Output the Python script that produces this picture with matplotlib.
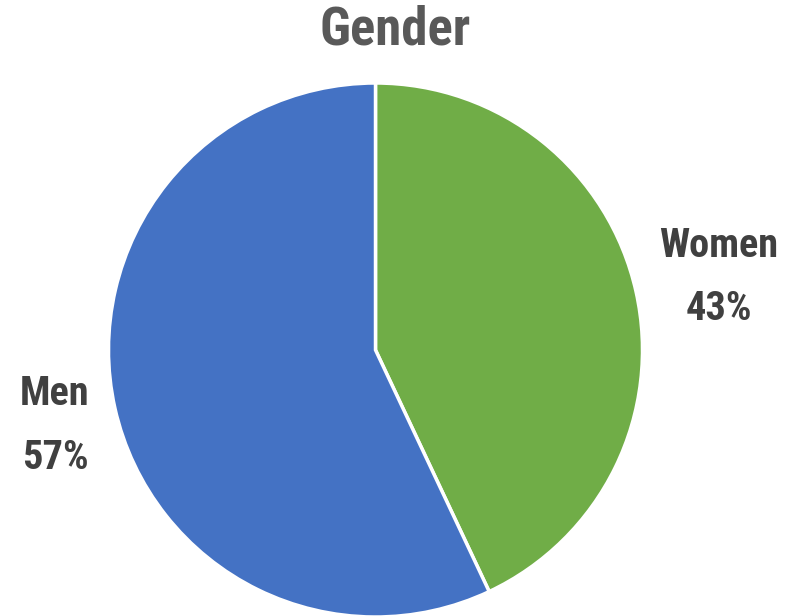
import matplotlib.pyplot as plt

labels = ["Women", "Men"]
shares = [43, 57]
colors = ["#70AD47", "#4472C4"]

plt.rcParams['font.family'] = ['Roboto Condensed', 'Liberation Sans Narrow', 'DejaVu Sans']
plt.rcParams['font.stretch'] = 'condensed'

W, H = 787, 616
fig = plt.figure(figsize=(W / 100, H / 100), dpi=100)

# pie centre and radius in pixels
cx, cy, r = 375.5, 350, 267
ax = fig.add_axes([(cx - r) / W, (H - cy - r) / H, 2 * r / W, 2 * r / H])
ax.pie(shares, colors=colors, startangle=90, counterclock=False,
       wedgeprops=dict(edgecolor="white", linewidth=2.5))
ax.set_xlim(-1, 1)
ax.set_ylim(-1, 1)
ax.set_axis_off()

# label positions (pixels) for each slice
label_pos = [(719, 246, 309), (55, 394, 458)]
for name, val, (x, y1, y2) in zip(labels, shares, label_pos):
    fig.text(x / W, 1 - y1 / H, name, ha="center", va="center",
             fontsize=29, fontweight="bold", color="#404040")
    fig.text(x / W, 1 - y2 / H, f"{val}%", ha="center", va="center",
             fontsize=29, fontweight="bold", color="#404040")

fig.text(395 / W, 1 - 30 / H, "Gender", ha="center", va="center",
         fontsize=38, fontweight="bold", color="#595959")

fig.savefig("out.png", dpi=100)
